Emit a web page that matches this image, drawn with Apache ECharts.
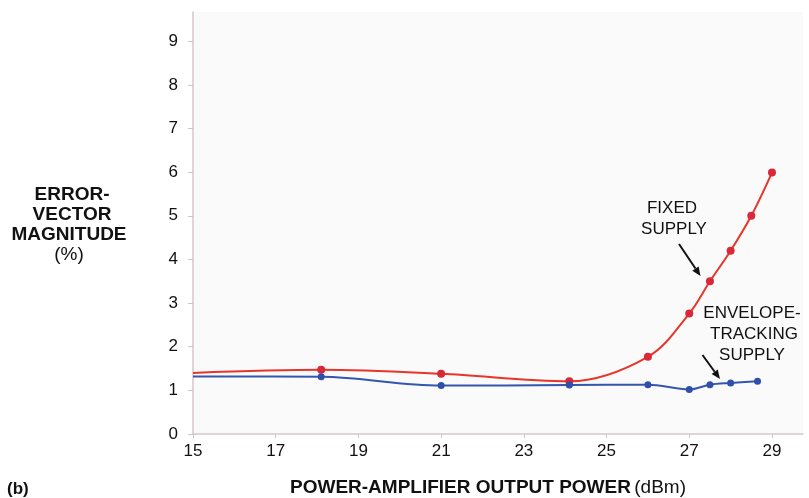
<!DOCTYPE html>
<html><head><meta charset="utf-8">
<script src="https://cdn.jsdelivr.net/npm/echarts@6/dist/echarts.min.js"></script>
<style>html,body{margin:0;padding:0;background:#fff}#c{width:809px;height:498px}</style>
</head><body><div id="c"></div>
<script>
const fixedX = [15, 18.1, 21, 24.1, 26, 27, 27.5, 28, 28.5, 29];
const fixedY = [1.40, 1.47, 1.38, 1.21, 1.77, 2.76, 3.50, 4.20, 5.00, 5.99];
const envX = [15, 18.1, 21, 24.1, 26, 27, 27.5, 28, 28.65];
const envY = [1.32, 1.31, 1.11, 1.12, 1.13, 1.02, 1.13, 1.17, 1.21];
const xTicks = [15, 17, 19, 21, 23, 25, 27, 29];
const yTicks = [0, 1, 2, 3, 4, 5, 6, 7, 8, 9];

const FONT = '"Liberation Sans", Arial, Helvetica, sans-serif';
function pts(xs, ys) {
  return xs.map((x, i) => i === 0 ? { value: [x, ys[i]], symbol: 'none' } : [x, ys[i]]);
}
const chart = echarts.init(document.getElementById('c'), null, { renderer: 'canvas' });
const txt = (x, y, t, bold, size) => ({
  type: 'text', x: x, y: y,
  style: { text: t, fill: '#111', font: (bold ? 'bold ' : '') + (size || 17) + 'px ' + FONT, align: 'center', verticalAlign: 'middle' }
});
function arrow(x1, y1, x2, y2) {
  const dx = x2 - x1, dy = y2 - y1, L = Math.hypot(dx, dy);
  const ux = dx / L, uy = dy / L, px = -uy, py = ux;
  const bx = x2 - 9 * ux, by = y2 - 9 * uy;
  return [
    { type: 'line', shape: { x1: x1, y1: y1, x2: bx, y2: by }, style: { stroke: '#111', lineWidth: 2 } },
    { type: 'polygon', shape: { points: [[x2, y2], [bx + 3.8 * px, by + 3.8 * py], [bx - 3.8 * px, by - 3.8 * py]] }, style: { fill: '#111' } }
  ];
}
chart.setOption({
  backgroundColor: '#fff',
  animation: false,
  grid: { left: 193, right: 6, top: 12, bottom: 64, show: true, backgroundColor: '#fafafa', borderWidth: 0 },
  xAxis: {
    type: 'value', min: 15, max: 29.75,
    axisLine: { lineStyle: { color: '#d8c6c6', width: 1.5 } },
    axisTick: { show: true, length: 4, lineStyle: { color: '#c8c8c8' }, customValues: xTicks },
    axisLabel: { customValues: xTicks, color: '#111', fontSize: 17, fontFamily: FONT, margin: 9 },
    splitLine: { show: false }
  },
  yAxis: {
    type: 'value', min: 0, max: 9.67,
    axisLine: { show: true, lineStyle: { color: '#d8c6c6', width: 1.5 } },
    axisTick: { show: true, length: 5, lineStyle: { color: '#c8c8c8' }, customValues: yTicks },
    axisLabel: { customValues: yTicks, color: '#111', fontSize: 17, fontFamily: FONT, margin: 15 },
    splitLine: { show: false }
  },
  series: [
    {
      type: 'line', data: pts(fixedX, fixedY), smooth: 0.35,
      symbol: 'circle', symbolSize: 8,
      lineStyle: { color: '#e8352a', width: 2 },
      itemStyle: { color: '#d8283a' }
    },
    {
      type: 'line', data: pts(envX, envY), smooth: 0.35,
      symbol: 'circle', symbolSize: 7,
      lineStyle: { color: '#3556b0', width: 2 },
      itemStyle: { color: '#2f4fa8' }
    }
  ],
  graphic: [
    txt(72, 195, 'ERROR-', true, 19),
    txt(72, 215, 'VECTOR', true, 19),
    txt(69, 235, 'MAGNITUDE', true, 19),
    txt(69, 255, '(%)', false, 19),
    txt(672, 208, 'FIXED', false),
    txt(674, 229, 'SUPPLY', false),
    txt(752, 313, 'ENVELOPE-', false),
    txt(754, 334, 'TRACKING', false),
    txt(752, 355, 'SUPPLY', false),
    {
      type: 'text', x: 488, y: 488,
      style: {
        text: '{b|POWER-AMPLIFIER OUTPUT POWER} {n|(dBm)}', align: 'center', verticalAlign: 'middle',
        rich: { b: { font: 'bold 19px ' + FONT, fill: '#111' }, n: { font: '19px ' + FONT, fill: '#111' } }
      }
    },
    { type: 'text', x: 7, y: 489, style: { text: '(b)', font: 'bold 17px ' + FONT, fill: '#111', verticalAlign: 'middle' } }
  ].concat(arrow(679, 244, 700.5, 276)).concat(arrow(702.5, 355, 720, 379))
});
</script></body></html>
